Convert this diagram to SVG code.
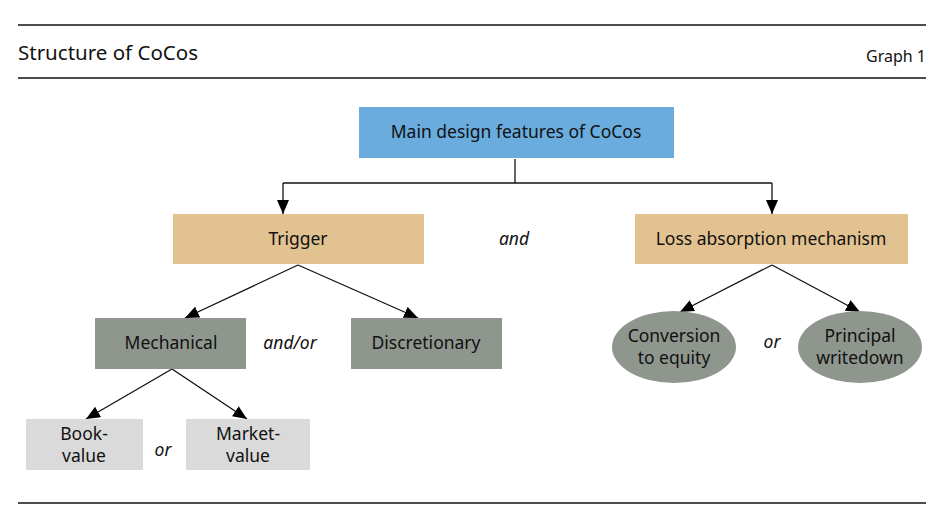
<svg xmlns="http://www.w3.org/2000/svg" width="936" height="518" viewBox="0 0 936 518">
<style>
text{font-family:"Noto Sans","Open Sans","Liberation Sans",sans-serif;font-size:17.5px;fill:#111;text-anchor:middle}
.it{font-style:italic}
.rule{stroke:#111;stroke-width:1.5}
.con{stroke:#111;stroke-width:1.3;fill:none}
.blue{fill:#6AACDE}
.tan{fill:#E2C290}
.grey{fill:#8F968E}
.light{fill:#DADADA}
</style>
<defs>
<marker id="ah" viewBox="0 0 14 12" refX="14" refY="6" markerWidth="14" markerHeight="12" markerUnits="userSpaceOnUse" orient="auto">
<path d="M0,0 L14,6 L0,12 z" fill="#000"/>
</marker>
</defs>
<g id="header">
<line class="rule" x1="18" y1="25" x2="926" y2="25"/>
<text x="18" y="60" style="text-anchor:start;font-size:20.5px">Structure of CoCos</text>
<text x="926" y="62" style="text-anchor:end;font-size:16px">Graph 1</text>
<line class="rule" x1="18" y1="78" x2="926" y2="78"/>
<line class="rule" x1="18" y1="503" x2="926" y2="503"/>
</g>
<g id="connectors">
<path class="con" d="M515,159 V183"/>
<path class="con" d="M283,183 H772"/>
<path class="con" d="M283,183 V214" marker-end="url(#ah)"/>
<path class="con" d="M772,183 V214" marker-end="url(#ah)"/>
<path class="con" d="M298,265 L185,318" marker-end="url(#ah)"/>
<path class="con" d="M298,265 L418,318" marker-end="url(#ah)"/>
<path class="con" d="M172,369 L86,419" marker-end="url(#ah)"/>
<path class="con" d="M172,369 L247,419" marker-end="url(#ah)"/>
<path class="con" d="M772,265 L680,312" marker-end="url(#ah)"/>
<path class="con" d="M772,265 L860,312" marker-end="url(#ah)"/>
</g>
<g id="main">
<rect class="blue" x="359" y="107" width="315" height="51"/>
<text x="516" y="138">Main design features of CoCos</text>
</g>
<g id="trigger">
<rect class="tan" x="173" y="214" width="251" height="50"/>
<text x="298" y="245">Trigger</text>
</g>
<g id="and-label"><text class="it" x="514" y="245">and</text></g>
<g id="loss">
<rect class="tan" x="635" y="214" width="273" height="50"/>
<text x="771" y="245">Loss absorption mechanism</text>
</g>
<g id="mechanical">
<rect class="grey" x="95" y="318" width="151" height="51"/>
<text x="171" y="349">Mechanical</text>
</g>
<g id="andor-label"><text class="it" x="290" y="349">and/or</text></g>
<g id="discretionary">
<rect class="grey" x="351" y="318" width="151" height="51"/>
<text x="426" y="349">Discretionary</text>
</g>
<g id="book">
<rect class="light" x="26" y="419" width="117" height="51"/>
<text x="84" y="440">Book-</text>
<text x="84" y="462">value</text>
</g>
<g id="or1"><text class="it" x="163" y="456">or</text></g>
<g id="market">
<rect class="light" x="186" y="419" width="124" height="51"/>
<text x="248" y="440">Market-</text>
<text x="248" y="462">value</text>
</g>
<g id="conversion">
<ellipse class="grey" cx="674" cy="347" rx="62" ry="36"/>
<text x="674" y="342">Conversion</text>
<text x="674" y="364">to equity</text>
</g>
<g id="or2"><text class="it" x="772" y="348">or</text></g>
<g id="principal">
<ellipse class="grey" cx="860" cy="347" rx="62" ry="36"/>
<text x="860" y="342">Principal</text>
<text x="860" y="364">writedown</text>
</g>
</svg>
